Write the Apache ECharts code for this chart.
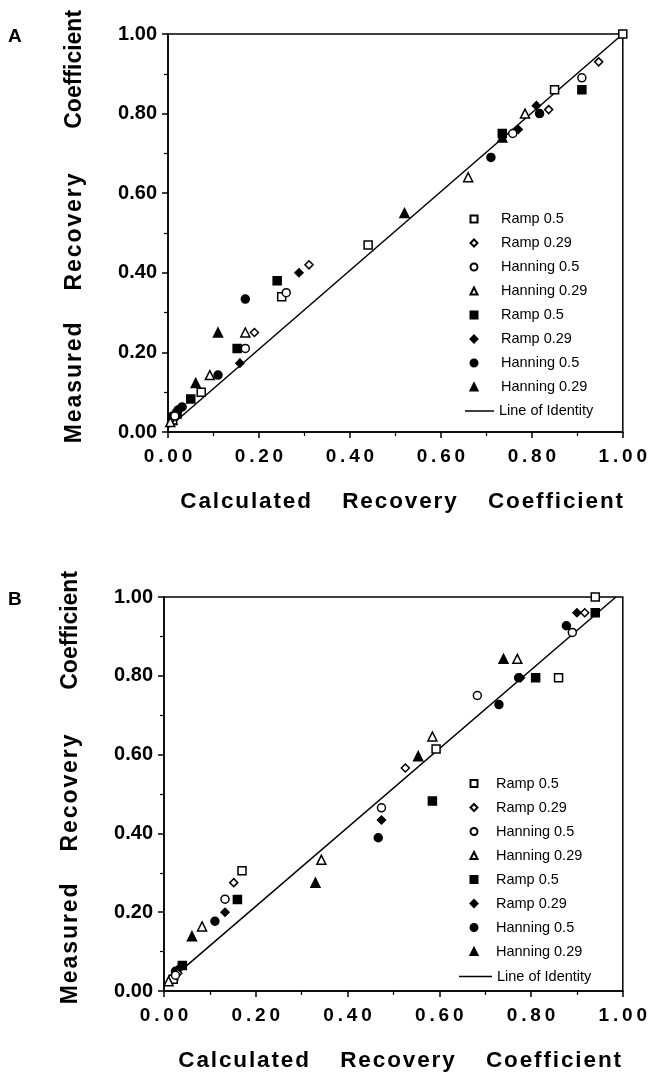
<!DOCTYPE html>
<html>
<head>
<meta charset="utf-8">
<script src="https://cdn.jsdelivr.net/npm/echarts@6/dist/echarts.min.js"></script>
<style>html,body{margin:0;padding:0;background:#fff;}#c{width:650px;height:1073px;}</style>
</head>
<body>
<div id="c"></div>
<script>
// ---- Panel A data [calculated, measured] ----
var A_rampOpen05  = [[0.01,0.03],[0.073,0.10],[0.25,0.34],[0.44,0.47],[0.85,0.86],[1.00,1.00]];
var A_rampOpen029 = [[0.01,0.035],[0.19,0.25],[0.31,0.42],[0.837,0.81],[0.947,0.93]];
var A_hannOpen05  = [[0.015,0.04],[0.17,0.21],[0.26,0.35],[0.758,0.75],[0.91,0.89]];
var A_hannOpen029 = [[0.005,0.025],[0.092,0.143],[0.17,0.25],[0.66,0.64],[0.785,0.80]];
var A_rampFill05  = [[0.02,0.045],[0.05,0.083],[0.152,0.21],[0.24,0.38],[0.735,0.75],[0.91,0.86]];
var A_rampFill029 = [[0.02,0.04],[0.158,0.173],[0.288,0.40],[0.77,0.76],[0.81,0.82]];
var A_hannFill05  = [[0.01,0.04],[0.022,0.055],[0.031,0.063],[0.11,0.143],[0.17,0.334],[0.71,0.69],[0.817,0.80]];
var A_hannFill029 = [[0.01,0.03],[0.061,0.123],[0.11,0.25],[0.52,0.55],[0.735,0.74]];
var A_identity    = [[0,0.01],[1,1]];

// ---- Panel B data ----
var B_rampOpen05  = [[0.02,0.03],[0.17,0.305],[0.593,0.614],[0.86,0.795],[0.94,1.00]];
var B_rampOpen029 = [[0.03,0.045],[0.152,0.275],[0.526,0.566],[0.917,0.96]];
var B_hannOpen05  = [[0.025,0.04],[0.133,0.233],[0.474,0.465],[0.683,0.75],[0.89,0.91]];
var B_hannOpen029 = [[0.01,0.025],[0.083,0.164],[0.343,0.333],[0.585,0.646],[0.77,0.843]];
var B_rampFill05  = [[0.04,0.065],[0.16,0.232],[0.585,0.482],[0.81,0.795],[0.94,0.96]];
var B_rampFill029 = [[0.035,0.06],[0.133,0.2],[0.474,0.434],[0.777,0.795],[0.9,0.96]];
var B_hannFill05  = [[0.025,0.05],[0.111,0.177],[0.467,0.389],[0.73,0.727],[0.773,0.795],[0.877,0.927]];
var B_hannFill029 = [[0.02,0.04],[0.061,0.139],[0.33,0.275],[0.554,0.596],[0.74,0.843]];
var B_identity    = [[0,0.015],[0.985,1.0]];

var legendLabels = ['Ramp 0.5','Ramp 0.29','Hanning 0.5','Hanning 0.29','Ramp 0.5','Ramp 0.29','Hanning 0.5','Hanning 0.29','Line of Identity'];
var seriesKeys = ['ro05','ro029','ho05','ho029','rf05','rf029','hf05','hf029','id'];
var xTitleWords = ['Calculated','Recovery','Coefficient'];
var yTitleWords = ['Measured','Recovery','Coefficient'];
var panelLabels = ['A','B'];

var FONT = '"Liberation Sans", Arial, sans-serif';
var HAIR = '\u200A';
var symbols = ['rect','diamond','circle','triangle','rect','diamond','circle','triangle'];
var sizes = [8,8,8,9,8,8,8,9];
var filled = [false,false,false,false,true,true,true,true];
var labelOf = {};
seriesKeys.forEach(function(k,i){ labelOf[k] = legendLabels[i]; });

function spaced(s, sep){ return s.split('').join(sep); }
var xTitle = '  ' + xTitleWords.map(function(w){return spaced(w,HAIR);}).join('     ');
var yTitle = '  ' + spaced(yTitleWords[0],HAIR) + '     ' + spaced(yTitleWords[1],HAIR) + '       ' + yTitleWords[2];

function makeAxes(idx){
  var x = {
    type:'value', gridIndex:idx, min:0, max:1, interval:0.2,
    name:xTitle, nameLocation:'middle', nameGap:58,
    nameTextStyle:{fontFamily:FONT, fontWeight:'bold', fontSize:22.5, color:'#000'},
    axisLine:{lineStyle:{color:'#000', width:1.5}},
    axisTick:{show:true, inside:false, length:6, lineStyle:{color:'#000', width:1.5}},
    minorTick:{show:true, splitNumber:2, length:4, lineStyle:{color:'#000', width:1.2}},
    splitLine:{show:false},
    axisLabel:{fontFamily:FONT, fontWeight:'bold', fontSize:19, color:'#000', margin:15,
      formatter:function(v){ return spaced(v.toFixed(2),'\u2009'); }}
  };
  var y = {
    type:'value', gridIndex:idx, min:0, max:1, interval:0.2,
    name:yTitle, nameLocation:'middle', nameGap:82, nameRotate:90,
    nameTextStyle:{fontFamily:FONT, fontWeight:'bold', fontSize:23, color:'#000'},
    axisLine:{lineStyle:{color:'#000', width:1.5}},
    axisTick:{show:true, inside:false, length:6, lineStyle:{color:'#000', width:1.5}},
    minorTick:{show:true, splitNumber:2, length:4, lineStyle:{color:'#000', width:1.2}},
    splitLine:{show:false},
    axisLabel:{fontFamily:FONT, fontWeight:'bold', fontSize:20, color:'#000', margin:11,
      formatter:function(v){ return v.toFixed(2); }}
  };
  return [x,y];
}

var dataA = [A_rampOpen05,A_rampOpen029,A_hannOpen05,A_hannOpen029,A_rampFill05,A_rampFill029,A_hannFill05,A_hannFill029];
var dataB = [B_rampOpen05,B_rampOpen029,B_hannOpen05,B_hannOpen029,B_rampFill05,B_rampFill029,B_hannFill05,B_hannFill029];

var series = [];
[dataA,dataB].forEach(function(set, g){
  set.forEach(function(d,i){
    series.push({
      type:'scatter', name:seriesKeys[i], xAxisIndex:g, yAxisIndex:g,
      data:d, symbol:symbols[i], symbolSize:sizes[i],
      itemStyle:{color: filled[i] ? '#000' : '#fff', borderColor:'#000', borderWidth:1.5, opacity:1},
      z: filled[i] ? 3 : 4
    });
  });
  series.push({
    type:'line', name:'id', xAxisIndex:g, yAxisIndex:g,
    data: g===0 ? A_identity : B_identity, symbol:'none',
    lineStyle:{color:'#000', width:1.5}, itemStyle:{color:'#000'}, z:2
  });
});

var ax0 = makeAxes(0), ax1 = makeAxes(1);

function markerLegend(top, left, pad){
  return {
    top:top, left:left, orient:'vertical', itemWidth:7, itemHeight:7, itemGap:9, padding:0,
    data:seriesKeys.slice(0,8), selectedMode:false,
    textStyle:{fontFamily:FONT, fontSize:14.5, color:'#000', lineHeight:15,
      rich:{t:{fontFamily:FONT, fontSize:14.5, color:'#000', lineHeight:15, padding:[0,0,0,pad]}}},
    formatter:function(n){ return '{t|' + labelOf[n] + '}'; }
  };
}
function lineLegend(top, left, w){
  return {
    top:top, left:left, orient:'vertical', itemWidth:w, itemHeight:1.5, padding:0,
    data:[{name:'id', icon:'rect'}], selectedMode:false,
    textStyle:{fontFamily:FONT, fontSize:14.5, color:'#000', lineHeight:15},
    formatter:function(n){ return labelOf[n]; }
  };
}

var chart = echarts.init(document.getElementById('c'), null, {renderer:'canvas'});
chart.setOption({
  backgroundColor:'#fff',
  animation:false,
  grid:[
    {left:168, top:34, width:455, height:398, show:true, borderColor:'#000', borderWidth:1.5, backgroundColor:'transparent'},
    {left:164, top:597, width:459, height:396, show:true, borderColor:'#000', borderWidth:1.5, backgroundColor:'transparent'}
  ],
  xAxis:[ax0[0], ax1[0]],
  yAxis:[ax0[1], ax1[1]],
  legend:[
    markerLegend(211.5, 469.5, 18.5), lineLegend(403.5, 465, 29),
    markerLegend(776, 469.5, 13.5), lineLegend(969, 459, 33)
  ],
  graphic:[
    {type:'text', left:8, top:27, style:{text:panelLabels[0], font:'bold 19px "Liberation Sans", Arial', fill:'#000'}},
    {type:'text', left:8, top:590, style:{text:panelLabels[1], font:'bold 19px "Liberation Sans", Arial', fill:'#000'}}
  ],
  series:series
});
</script>
</body>
</html>
